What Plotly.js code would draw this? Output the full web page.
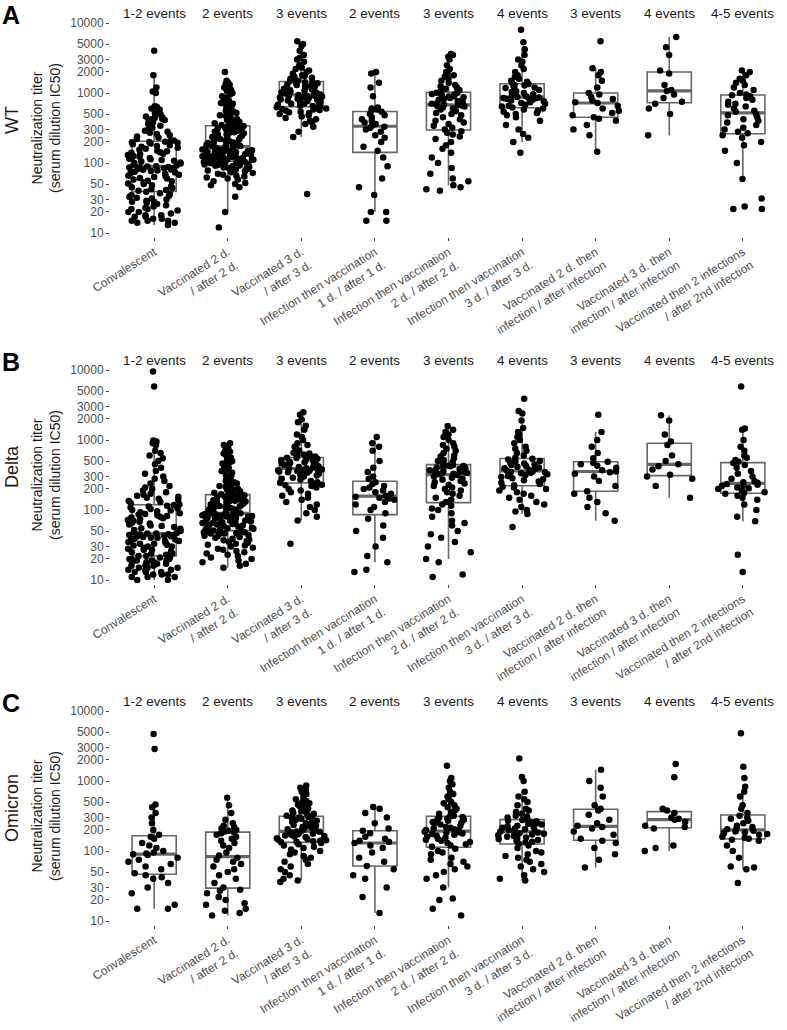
<!DOCTYPE html>
<html><head><meta charset="utf-8">
<script src="https://cdn.plot.ly/plotly-3.0.1.min.js"></script>
<style>html,body{margin:0;padding:0;background:#fff}#chart{width:787px;height:1030px}</style>
</head><body><div id="chart"></div>
<script>
// ---------- categories / labels ----------
const categories = ['Convalescent','Vaccinated 2 d.<br>/ after 2 d.','Vaccinated 3 d.<br>/ after 3 d.',
 'Infection then vaccination<br>1 d. / after 1 d.','Infection then vaccination<br>2 d. / after 2 d.',
 'Infection then vaccination<br>3 d. / after 3 d.','Vaccinated 2 d. then<br>infection / after infection',
 'Vaccinated 3 d. then<br>infection / after infection','Vaccinated then 2 infections<br>/ after 2nd infection'];
const eventLabels = ['1-2 events','2 events','3 events','2 events','3 events','4 events','3 events','4 events','4-5 events'];
const variants = ['WT','Delta','Omicron'];
const panelLetters = ['A','B','C'];
const yTickVals = [10,20,30,50,100,200,300,500,1000,2000,3000,5000,10000];
const yTickText = ['10','20','30','50','100','200','300','500','1000','2000','3000','5000','10000'];

// ---------- WT ----------
const wtConvalescent = [13,14,14,15,15,15,16,16,17,17,18,18,19,20,20,21,22,22,23,24,25,26,27,28,28,29,30,31,32,33,34,35,36,37,39,
 40,41,42,44,45,46,48,50,51,53,55,56,58,60,61,63,65,66,68,70,72,73,75,77,78,80,81,82,84,85,86,87,88,89,90,
 92,95,98,100,102,105,108,110,113,115,118,120,123,126,130,133,136,140,143,147,150,155,160,165,170,175,180,185,190,195,198,200,202,205,210,
 220,230,240,250,260,270,280,290,300,320,340,360,380,400,410,420,430,440,450,460,480,500,520,550,580,600,630,650,1000,1050,1200,1800,4000];
const wtVacc2 = [12,20,33,45,48,50,52,55,58,60,62,64,66,68,70,72,74,76,78,80,82,84,85,86,88,90,91,92,94,95,96,97,98,99,100,101,102,103,104,105,
 106,107,108,110,111,112,113,114,115,117,118,120,121,122,124,125,126,128,130,131,132,134,135,137,138,140,142,144,145,147,149,150,152,154,156,158,160,163,166,170,
 172,175,178,180,183,186,190,193,196,200,205,210,215,220,225,230,235,240,245,250,255,260,265,270,275,280,285,290,295,300,305,310,315,320,325,330,332,335,338,340,
 345,350,360,370,380,390,400,410,420,430,450,470,480,500,520,540,560,580,600,620,650,680,700,720,750,780,800,850,900,950,1000,1050,1100,1150,1200,1300,1350,1400,1500,2000];
const wtVacc3 = [36,235,280,330,360,380,400,420,440,460,480,500,520,530,540,560,570,580,590,600,610,625,
 640,650,660,680,700,710,720,740,750,770,780,800,810,830,850,860,880,890,900,910,920,935,
 950,970,990,1000,1020,1050,1080,1100,1120,1150,1180,1200,1220,1250,1280,1300,1320,1350,1380,1400,1420,1450,
 1480,1500,1550,1600,1650,1700,1750,1800,1900,2000,2100,2200,2300,2500,2800,3000,3200,3500,4000,4700,5000,5500];
const wtInf1 = [15,15,20,20,35,45,60,90,120,150,170,200,230,250,280,300,320,330,340,360,380,400,420,450,480,500,540,560,580,600,620,900,1200,1400,1900,2000];
const wtInf2 = [40,42,45,48,55,60,70,85,100,120,140,160,180,200,220,240,255,270,285,
 300,320,340,360,380,400,420,450,480,500,520,550,580,600,620,640,650,660,670,
 680,700,720,740,760,780,800,820,850,870,890,900,920,950,970,990,1000,1010,1020,
 1050,1100,1150,1200,1250,1300,1400,1500,1600,1700,1800,1900,2000,2200,2500,3000,3300,3500,3600];
const wtInf3 = [140,200,230,260,300,350,400,450,480,500,520,540,560,580,600,
 620,640,660,680,700,720,740,760,780,800,820,830,840,850,865,
 880,900,930,960,1000,1030,1060,1100,1150,1180,1200,1250,1280,1300,1340,
 1400,1450,1500,1600,1700,1800,2000,2200,2500,2800,3000,3500,4200,5300,8000];
const wtVacc2Inf = [145,250,300,350,400,430,450,480,520,560,600,650,720,740,780,820,880,950,1000,1200,1500,1800,2000,2250,5500];
const wtVacc3Inf = [250,500,600,700,750,850,950,1070,1100,1300,1900,2100,3500,4500,6300];
const wtVacc2Inf2 = [22,22,24,31,59,100,150,180,200,230,250,265,280,300,320,350,380,400,420,450,480,500,540,560,600,640,680,700,750,800,850,900,930,950,1000,1100,1200,1300,1400,1500,1600,1800,2000,2100];

// ---------- Delta ----------
const deltaConvalescent = [10,10,11,11,11,12,12,12,13,13,13,14,14,14,15,15,15,16,16,16,17,17,17,18,18,18,19,19,19,20,20,20,21,21,22,
 22,23,24,24,25,26,27,27,28,29,30,30,31,32,33,33,34,35,36,36,37,38,39,40,40,41,42,42,43,44,44,45,45,46,46,
 47,48,50,52,54,55,57,59,60,62,64,66,68,70,72,74,76,78,80,82,84,86,88,90,93,96,98,100,103,106,109,112,115,118,120,
 125,130,135,140,145,150,155,160,165,170,180,190,200,210,220,240,260,280,300,330,360,400,450,500,550,600,650,700,850,900,950,980,5800,9500];
const deltaVacc2 = [15,16,17,18,19,20,21,22,23,24,25,26,27,28,29,30,31,32,33,34,35,36,37,38,39,40,41,42,43,44,45,45,46,46,47,47,48,48,49,50,
 51,52,53,54,55,56,57,58,59,60,61,62,63,64,65,66,67,68,69,70,71,72,73,74,75,76,77,78,79,80,81,82,83,84,85,86,87,88,88,89,
 90,92,94,96,98,100,102,104,106,108,110,112,114,116,118,120,122,124,126,128,130,132,134,136,138,140,142,144,146,148,150,152,154,156,158,160,161,162,164,165,
 168,172,176,180,185,190,195,200,205,210,215,220,230,240,250,260,270,280,290,300,320,340,360,380,400,420,440,460,480,500,530,560,600,640,680,720,760,800,850,900];
const deltaVacc3 = [33,71,80,90,100,110,120,130,140,150,160,170,180,190,200,210,220,225,230,238,
 245,250,260,270,280,290,300,310,320,330,340,345,350,355,360,365,370,375,380,388,
 395,400,410,420,430,440,450,460,470,480,490,500,510,520,530,540,545,550,555,560,
 570,580,600,620,640,660,700,750,800,850,900,1000,1100,1200,1400,1600,1800,1960,2300,2500];
const deltaInf1 = [13,14,18,22,30,40,50,60,75,90,100,110,120,130,140,145,150,155,160,170,180,190,200,210,220,235,250,280,300,350,400,500,700,800,900,1100];
const deltaInf2 = [11,12,18,20,25,30,35,40,45,50,60,65,70,80,90,100,105,115,120,
 130,140,150,160,170,180,190,200,210,220,230,240,250,260,270,280,290,300,315,
 325,330,335,340,345,350,355,360,370,380,385,390,400,405,410,420,425,430,440,
 460,480,500,520,550,580,600,650,700,750,800,850,900,1000,1100,1200,1300,1400,1580];
const deltaInf3 = [57,88,95,100,110,120,130,140,150,160,170,180,190,200,210,215,
 225,235,245,255,265,275,285,295,305,315,325,335,340,345,350,358,
 365,375,385,395,405,415,425,440,450,460,475,490,500,515,525,538,
 560,600,650,700,750,800,900,1000,1100,1200,1300,1490,1900,2400,2600,3900];
const deltaVacc2Inf = [70,90,110,130,150,170,185,220,260,300,330,345,355,370,400,430,450,470,490,550,650,800,1000,1300,2300];
const deltaVacc3Inf = [150,220,280,300,320,380,420,450,500,600,850,950,1200,1900,2250];
const deltaVacc2Inf2 = [13,23,69,80,100,120,140,150,160,170,175,180,190,200,205,210,220,225,230,235,245,250,260,280,300,330,360,400,440,470,490,520,560,600,700,800,1000,1400,1460,5800];

// ---------- Omicron ----------
const omiConvalescent = [15,15,17,25,30,35,40,42,45,48,55,60,65,70,75,80,88,90,92,95,100,110,120,130,150,160,170,200,250,300,350,420,460,2860,4700];
const omiVacc2 = [12,13,14,15,17,18,20,22,25,27,28,30,35,40,45,50,55,60,65,70,75,80,86,95,110,120,130,140,150,160,170,180,185,190,195,200,210,220,230,250,280,350,450,575];
const omiVacc3 = [36,38,40,45,50,55,60,65,70,75,80,85,90,95,100,105,110,115,120,125,130,
 134,136,138,140,143,146,149,152,155,158,161,164,167,170,173,176,179,182,185,188,190,
 192,196,200,205,210,215,220,225,230,235,240,250,255,260,270,280,290,295,300,305,312,
 320,330,340,350,360,370,380,400,420,440,460,480,500,520,550,600,650,700,750,800,860];
const omiInf1 = [13,22,30,40,45,55,61,70,80,95,110,120,130,135,140,150,160,180,195,210,250,300,350,400,425];
const omiInf2 = [12,15,20,21,30,40,45,50,55,60,65,70,75,80,90,95,100,108,
 115,120,125,130,135,140,145,150,155,160,165,170,175,178,182,185,188,190,
 195,200,205,210,215,220,230,240,250,255,260,270,280,285,290,300,305,312,
 320,340,360,380,400,420,450,480,500,550,600,650,700,800,900,1000,1100,1650];
const omiInf3 = [38,40,45,50,55,60,65,70,75,80,85,90,95,100,110,120,
 128,132,136,140,144,148,152,156,160,164,168,172,176,180,184,186,
 190,195,200,205,210,215,220,225,230,240,245,250,260,265,270,278,
 290,300,310,320,340,360,380,400,450,500,550,600,700,1000,1140,2100];
const omiVacc2Inf = [58,75,90,110,130,140,150,170,190,210,220,230,250,280,330,380,400,450,600,800,1000,1450];
const omiVacc3Inf = [100,110,120,210,220,230,260,280,290,300,350,380,400,1130,1750];
const omiVacc2Inf2 = [35,55,58,60,80,100,120,140,145,150,155,160,170,175,180,185,190,195,205,210,220,230,250,270,290,300,320,350,400,450,600,700,830,1100,1600,4800];

const wtSeries = [wtConvalescent,wtVacc2,wtVacc3,wtInf1,wtInf2,wtInf3,wtVacc2Inf,wtVacc3Inf,wtVacc2Inf2];
const deltaSeries = [deltaConvalescent,deltaVacc2,deltaVacc3,deltaInf1,deltaInf2,deltaInf3,deltaVacc2Inf,deltaVacc3Inf,deltaVacc2Inf2];
const omiSeries = [omiConvalescent,omiVacc2,omiVacc3,omiInf1,omiInf2,omiInf3,omiVacc2Inf,omiVacc3Inf,omiVacc2Inf2];
const panels = [wtSeries, deltaSeries, omiSeries];

// ---------- geometry ----------
const W = 787, H = 1030;
const plotLeft = 110;
const top10000 = [23, 370, 711];
const perDecade = 70;
const yLo = 0.95, yHi = 4.05;
const fontFam = '"Liberation Sans", Arial, Helvetica, sans-serif';
const boxColor = '#666666';

function q7(s, p){ const h=(s.length-1)*p; const lo=Math.floor(h); const hi=Math.min(lo+1,s.length-1); return s[lo]+(h-lo)*(s[hi]-s[lo]); }
function boxStats(vals){
  const L = vals.map(v=>Math.log10(v)).sort((a,b)=>a-b);
  const q1=q7(L,0.25), med=q7(L,0.5), q3=q7(L,0.75), iqr=q3-q1;
  const lo = L.find(v=>v>=q1-1.5*iqr);
  const hi = L.slice().reverse().find(v=>v<=q3+1.5*iqr);
  return {q1:10**q1, med:10**med, q3:10**q3, lf:10**lo, uf:10**hi};
}

const traces = [];
const layout = {
  width: W, height: H, margin:{l:0,r:0,t:0,b:0}, paper_bgcolor:'#fff', plot_bgcolor:'rgba(0,0,0,0)',
  showlegend:false, boxmode:'overlay', boxgap:0.4,
  font:{family:fontFam, color:'#333'}, annotations:[]
};
const pyToPaper = py => 1 - py / H;

panels.forEach((series, p) => {
  const sfx = p === 0 ? '' : String(p+1);
  const xa = 'x'+sfx, ya = 'y'+sfx;
  const y10k = top10000[p];
  const pxTop = y10k - (yHi-4)*perDecade;
  const pxBot = y10k + (4-yLo)*perDecade;
  layout['xaxis'+sfx] = {
    domain:[plotLeft/W, 1], anchor:ya, type:'category', categoryorder:'array', categoryarray:categories,
    range:[-0.6, 8.6], showline:false, showgrid:false, zeroline:false,
    ticks:'outside', ticklen:3, tickwidth:1, tickcolor:'#444', tickangle:-32,
    tickfont:{size:12, color:'#4d4d4d', family:fontFam}, automargin:false, fixedrange:true
  };
  layout['yaxis'+sfx] = {
    domain:[pyToPaper(pxBot), pyToPaper(pxTop)], anchor:xa, type:'log', range:[yLo, yHi],
    tickmode:'array', tickvals:yTickVals, ticktext:yTickText,
    showline:false, showgrid:false, zeroline:false,
    ticks:'outside', ticklen:3, tickwidth:1, tickcolor:'#444',
    tickfont:{size:12, color:'#4d4d4d', family:fontFam}, automargin:false, fixedrange:true
  };
  // box stats computed from the data (log scale, 1.5 IQR whiskers)
  const st = series.map(boxStats);
  traces.push({type:'box', x:categories, xaxis:xa, yaxis:ya, width:0.6,
    q1:st.map(s=>s.q1), median:st.map(s=>s.med), q3:st.map(s=>s.q3),
    lowerfence:st.map(s=>s.lf), upperfence:st.map(s=>s.uf),
    boxpoints:false, whiskerwidth:0, line:{color:boxColor, width:1.6}, fillcolor:'rgba(255,255,255,0)', hoverinfo:'skip'});
  // thick median bar
  traces.push({type:'box', x:categories, xaxis:xa, yaxis:ya, width:0.6,
    q1:st.map(s=>s.med), median:st.map(s=>s.med), q3:st.map(s=>s.med),
    lowerfence:st.map(s=>s.med), upperfence:st.map(s=>s.med),
    boxpoints:false, whiskerwidth:0, line:{color:boxColor, width:3.2}, fillcolor:'rgba(255,255,255,0)', hoverinfo:'skip'});
  // jittered points
  const px = [], pyv = [];
  series.forEach((vals,i)=>vals.forEach(v=>{px.push(categories[i]); pyv.push(v);}));
  traces.push({type:'box', x:px, y:pyv, xaxis:xa, yaxis:ya, width:0.72, boxpoints:'all', jitter:1, pointpos:0,
    marker:{color:'#000', size:6.5}, line:{color:'rgba(0,0,0,0)', width:0}, fillcolor:'rgba(0,0,0,0)', hoverinfo:'skip'});

  // event headers
  eventLabels.forEach((t,i)=>layout.annotations.push({text:t, xref:xa, x:categories[i], yref:'paper', y:pyToPaper(y10k-10),
    yanchor:'middle', xanchor:'center', showarrow:false, font:{size:13.5, color:'#1a1a1a', family:fontFam}}));
  // panel letter
  layout.annotations.push({text:'<b>'+panelLetters[p]+'</b>', xref:'paper', x:0, xanchor:'left', yref:'paper', y:pyToPaper(y10k-24),
    yanchor:'top', showarrow:false, font:{size:25, color:'#000', family:fontFam}});
  const yMid = y10k + 105;
  layout.annotations.push({text:variants[p], xref:'paper', x:12/W, xanchor:'center', yref:'paper', y:pyToPaper(yMid-8),
    yanchor:'middle', textangle:-90, showarrow:false, font:{size:18, color:'#1a1a1a', family:fontFam}});
  layout.annotations.push({text:'Neutralization titer<br>(serum dilution IC50)', xref:'paper', x:46/W, xanchor:'center', yref:'paper', y:pyToPaper(yMid),
    yanchor:'middle', textangle:-90, showarrow:false, font:{size:14, color:'#1a1a1a', family:fontFam}});
});

Plotly.newPlot('chart', traces, layout, {staticPlot:true, displayModeBar:false});
</script></body></html>
